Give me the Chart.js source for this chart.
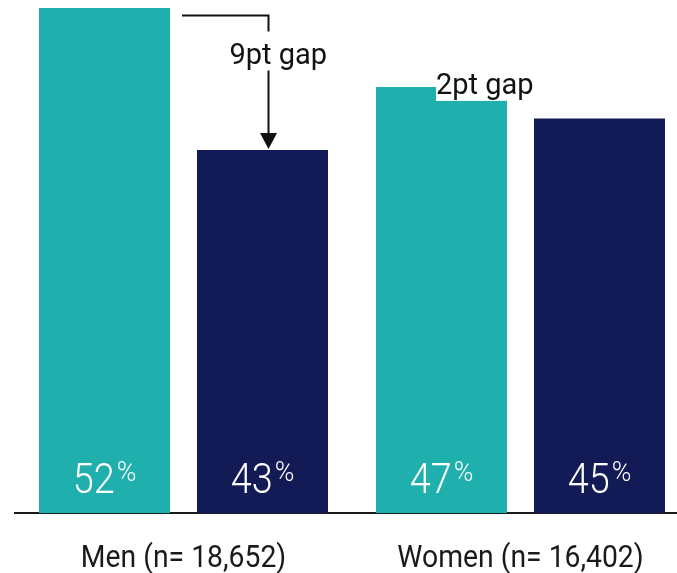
<!DOCTYPE html>
<html>
<head>
<meta charset="utf-8">
<script src="https://cdn.jsdelivr.net/npm/chart.js@4.4.1/dist/chart.umd.min.js"></script>
<style>
  html, body { margin: 0; padding: 0; background: #ffffff; overflow: hidden; }
  #frame { width: 677px; height: 573px; overflow: hidden; }
  /* the plot runs a little past the right edge, so the axis line reaches the border */
  #wrap { position: relative; width: 689px; height: 573px; }
</style>
</head>
<body>
<div id="frame"><div id="wrap"><canvas id="chart"></canvas></div></div>
<script>
// Categories and the two series shown side by side in each group
const categories = ['Men (n= 18,652)', 'Women (n= 16,402)'];
const tealValues = [52, 47];
const navyValues = [43, 45];

const TEAL = '#1fafad';
const NAVY = '#131b56';
const INK = '#111111';
const SANS = 'Roboto, "Noto Sans", sans-serif';

// Draw text squeezed horizontally to get a narrow face
function condensedText(ctx, text, x, y, sx, align) {
  const w = ctx.measureText(text).width * sx;
  let left = x;
  if (align === 'center') left = x - w / 2;
  else if (align === 'right') left = x - w;
  ctx.save();
  ctx.translate(left, y);
  ctx.scale(sx, 1);
  ctx.textAlign = 'left';
  ctx.fillText(text, 0, 0);
  ctx.restore();
  return w;
}

// Percentage labels inside the bars and the category names under the axis
const barLabels = {
  id: 'barLabels',
  afterDatasetsDraw(chart) {
    const ctx = chart.ctx;
    const base = chart.chartArea.bottom;
    ctx.save();
    ctx.textBaseline = 'alphabetic';
    chart.data.datasets.forEach((ds, di) => {
      chart.getDatasetMeta(di).data.forEach((bar, i) => {
        const num = String(ds.data[i]);
        ctx.font = '300 43px ' + SANS;
        const wNum = ctx.measureText(num).width * 0.88;
        ctx.font = '300 28px ' + SANS;
        const wPct = ctx.measureText('%').width * 0.95;
        const gap = 2;
        const left = bar.x - (wNum + gap + wPct) / 2;
        ctx.fillStyle = '#ffffff';
        ctx.font = '300 43px ' + SANS;
        condensedText(ctx, num, left, base - 20, 0.88, 'left');
        ctx.font = '300 28px ' + SANS;
        condensedText(ctx, '%', left + wNum + gap, base - 32, 0.95, 'left');
      });
    });
    const xs = chart.scales.x;
    ctx.fillStyle = '#1a1a1a';
    ctx.font = '400 32px ' + SANS;
    categories.forEach((c, i) => {
      condensedText(ctx, c, xs.getPixelForValue(i), base + 54, 0.885, 'center');
    });
    ctx.restore();
  }
};

// Gap callouts between the paired bars
const gapNotes = {
  id: 'gapNotes',
  afterDraw(chart) {
    const ctx = chart.ctx;
    const a = chart.getDatasetMeta(0).data;
    const b = chart.getDatasetMeta(1).data;
    ctx.save();
    ctx.strokeStyle = INK;
    ctx.fillStyle = INK;
    ctx.lineWidth = 2;
    ctx.font = '400 29px ' + SANS;
    ctx.textBaseline = 'alphabetic';

    // Men: bracket with arrow down to the lower bar
    const t0 = a[0], n0 = b[0];
    const gap0 = tealValues[0] - navyValues[0];
    const lineY = t0.y + 7.5;
    const xStart = t0.x + t0.width / 2 + 12;
    const xv = n0.x + 6;
    const tip = n0.y - 1;
    ctx.beginPath();
    ctx.moveTo(xStart, lineY);
    ctx.lineTo(xv, lineY);
    ctx.lineTo(xv, lineY + 16);
    ctx.moveTo(xv, lineY + 55);
    ctx.lineTo(xv, tip - 15);
    ctx.stroke();
    ctx.beginPath();
    ctx.moveTo(xv - 8.5, tip - 16);
    ctx.lineTo(xv + 8.5, tip - 16);
    ctx.lineTo(xv, tip);
    ctx.closePath();
    ctx.fill();
    ctx.textAlign = 'left';
    ctx.fillText(gap0 + 'pt gap', xv - 39, lineY + 48.5);

    // Women: label on a white box over the top of the first bar
    const t1 = a[1];
    const gap1 = tealValues[1] - navyValues[1];
    const txt = gap1 + 'pt gap';
    const tx = t1.x - 5.5;
    const ty = t1.y + 7.5;
    const tw = ctx.measureText(txt).width;
    ctx.fillStyle = '#ffffff';
    ctx.fillRect(tx, t1.y - 22, tw + 3, 36);
    ctx.fillStyle = INK;
    ctx.fillText(txt, tx, ty);
    ctx.restore();
  }
};

new Chart(document.getElementById('chart'), {
  type: 'bar',
  data: {
    labels: categories,
    datasets: [
      { data: tealValues, backgroundColor: TEAL, borderWidth: 0 },
      { data: navyValues, backgroundColor: NAVY, borderWidth: 0 }
    ]
  },
  options: {
    responsive: true,
    maintainAspectRatio: false,
    animation: false,
    events: [],
    categoryPercentage: 0.9377,
    barPercentage: 0.829,
    layout: { padding: { left: 15, right: 0, top: 8, bottom: 0 } },
    plugins: {
      legend: { display: false },
      tooltip: { enabled: false }
    },
    scales: {
      x: {
        grid: { display: false, drawTicks: false },
        border: { display: true, color: '#1a1a1a', width: 2 },
        ticks: { display: false },
        afterFit(scale) { scale.height = 60; }
      },
      y: {
        display: false,
        min: 20,
        max: 52
      }
    }
  },
  plugins: [barLabels, gapNotes]
});
</script>
</body>
</html>
